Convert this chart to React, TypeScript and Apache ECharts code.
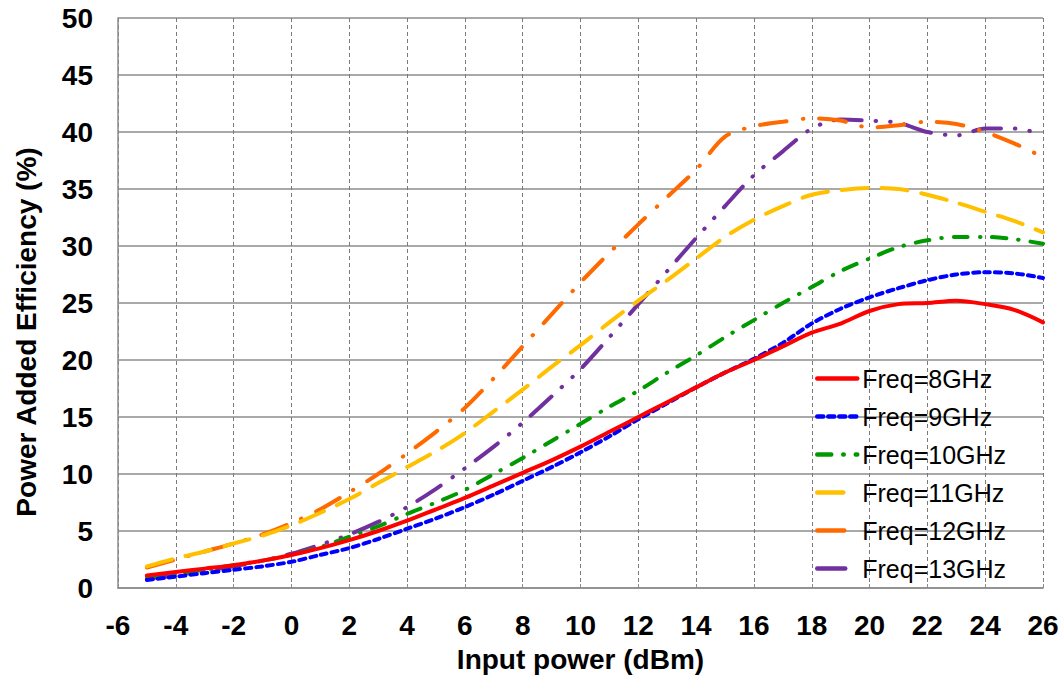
import React, { useEffect, useRef } from "react";
import * as echarts from "echarts";

const xValues = [-5, -4, -3, -2, -1, 0, 1, 2, 3, 4, 5, 6, 7, 8, 9, 10, 11, 12, 13, 14, 15, 16, 17, 18, 19, 20, 21, 22, 23, 24, 25, 26];

const freq8 = [1.1, 1.4, 1.7, 2.0, 2.4, 2.9, 3.5, 4.2, 5.0, 5.9, 6.9, 7.9, 9.0, 10.1, 11.2, 12.4, 13.7, 15.0, 16.3, 17.6, 18.9, 20.0, 21.2, 22.4, 23.2, 24.3, 24.9, 25.0, 25.2, 24.9, 24.4, 23.3];
const freq9 = [0.7, 1.0, 1.3, 1.6, 1.9, 2.3, 2.9, 3.5, 4.3, 5.2, 6.1, 7.1, 8.2, 9.4, 10.6, 11.9, 13.3, 14.8, 16.2, 17.6, 18.9, 20.1, 21.5, 23.2, 24.5, 25.5, 26.3, 27.0, 27.5, 27.7, 27.6, 27.2];
const freq10 = [1.0, 1.3, 1.6, 2.0, 2.4, 2.9, 3.6, 4.5, 5.4, 6.5, 7.5, 8.6, 10.0, 11.4, 12.9, 14.4, 15.9, 17.3, 18.9, 20.4, 22.0, 23.5, 25.0, 26.4, 27.8, 28.9, 29.9, 30.5, 30.8, 30.8, 30.6, 30.2];
const freq11 = [1.9, 2.6, 3.2, 3.9, 4.6, 5.5, 6.6, 7.8, 9.2, 10.6, 12.0, 13.6, 15.5, 17.4, 19.4, 21.3, 23.3, 25.2, 27.0, 28.9, 30.8, 32.3, 33.5, 34.5, 34.9, 35.1, 35.0, 34.5, 33.8, 33.0, 32.2, 31.2];
const freq12 = [1.8, 2.5, 3.2, 3.9, 4.7, 5.7, 6.9, 8.4, 10.0, 11.8, 13.7, 15.8, 18.4, 21.2, 24.0, 26.8, 29.4, 31.9, 34.3, 36.7, 39.6, 40.5, 40.9, 41.2, 41.0, 40.4, 40.6, 40.9, 40.7, 40.0, 39.0, 37.8];
const freq13 = [0.8, 1.1, 1.5, 1.9, 2.4, 3.0, 3.8, 4.7, 5.8, 7.1, 8.7, 10.5, 12.4, 14.5, 16.8, 19.2, 22.0, 24.9, 27.8, 30.7, 33.5, 36.2, 38.3, 40.3, 41.1, 41.0, 40.8, 40.0, 39.7, 40.3, 40.3, 39.8];

const seriesNames = ["Freq=8GHz", "Freq=9GHz", "Freq=10GHz", "Freq=11GHz", "Freq=12GHz", "Freq=13GHz"];
const seriesData = [freq8, freq9, freq10, freq11, freq12, freq13];
const seriesColors = ["#FF0000", "#0000FF", "#009A00", "#FFC000", "#FF6A00", "#7030A0"];
const seriesDash: any[] = [
  "solid",
  [6, 5],
  [14, 12, 0.5, 12],
  [26, 14],
  [27, 16, 0.5, 16],
  [28, 14, 0.5, 14, 0.5, 14],
];

const FONT = "'Liberation Sans', Arial, sans-serif";

export default function App() {
  const ref = useRef<HTMLDivElement>(null);
  useEffect(() => {
    if (!ref.current) return;
    const chart = echarts.init(ref.current, null, { renderer: "svg" });
    chart.setOption({
      animation: false,
      backgroundColor: "#ffffff",
      grid: { left: 118, right: 19, top: 18, bottom: 95, containLabel: false },
      legend: {
        orient: "vertical",
        left: 810,
        top: 361,
        itemWidth: 40,
        itemHeight: 14,
        itemGap: 13,
        itemStyle: { opacity: 0 },
        lineStyle: { width: 4.5 },
        textStyle: { fontFamily: FONT, fontSize: 25, color: "#000" },
        data: seriesNames,
      },
      xAxis: {
        type: "value",
        min: -6,
        max: 26,
        interval: 2,
        name: "Input power (dBm)",
        nameLocation: "middle",
        nameGap: 57,
        nameTextStyle: { fontFamily: FONT, fontSize: 28, fontWeight: "bold", color: "#000" },
        axisLine: { show: true, onZero: false, lineStyle: { color: "#8c8c8c", width: 1.5 } },
        axisTick: { show: true, inside: true, length: 4, lineStyle: { color: "#8c8c8c" } },
        axisLabel: { fontFamily: FONT, fontSize: 28, fontWeight: "bold", color: "#000", margin: 23 },
        splitLine: { show: true, lineStyle: { color: "#7a7a7a", type: [4, 3], width: 1 } },
      },
      yAxis: {
        type: "value",
        min: 0,
        max: 50,
        interval: 5,
        name: "Power Added Efficiency (%)",
        nameLocation: "middle",
        nameGap: 78,
        nameTextStyle: { fontFamily: FONT, fontSize: 28, fontWeight: "bold", color: "#000", padding: [0, 58, 0, 0] },
        axisLine: { show: true, onZero: false, lineStyle: { color: "#8c8c8c", width: 1.5 } },
        axisTick: { show: false },
        axisLabel: { fontFamily: FONT, fontSize: 28, fontWeight: "bold", color: "#000", margin: 25 },
        splitLine: { show: true, lineStyle: { color: "#8c8c8c", width: 1.5 } },
      },
      series: seriesNames.map((name, i) => ({
        name,
        type: "line",
        smooth: 0.3,
        symbol: "none",
        showSymbol: false,
        color: seriesColors[i],
        lineStyle: { color: seriesColors[i], width: 4, type: seriesDash[i], cap: "round" },
        data: xValues.map((x, j) => [x, seriesData[i][j]]),
        z: 10 - i,
      })),
    });
    return () => chart.dispose();
  }, []);
  return <div ref={ref} style={{ position: "fixed", left: 0, top: 0, width: 1062, height: 683 }} />;
}
